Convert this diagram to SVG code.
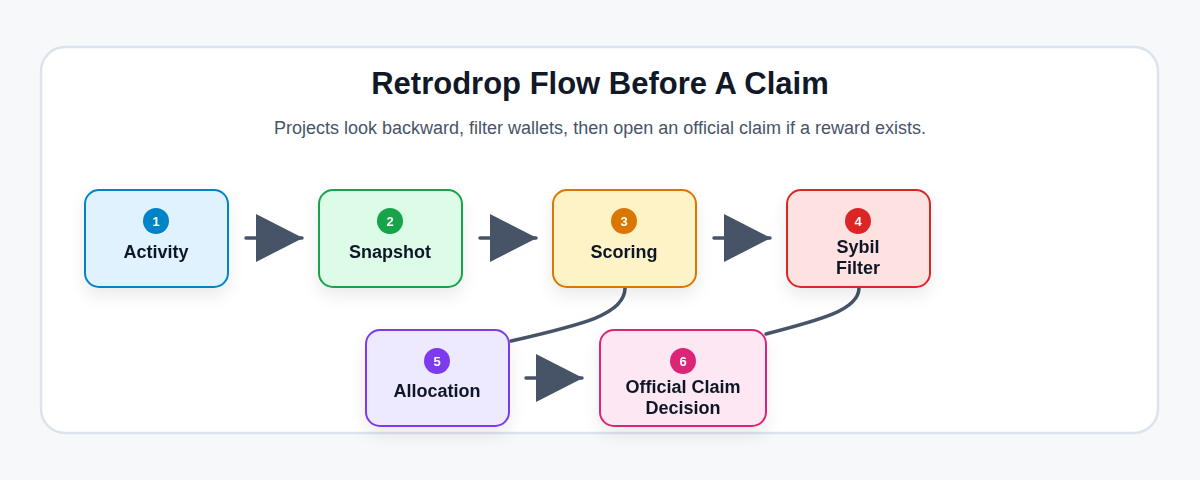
<svg xmlns="http://www.w3.org/2000/svg" width="1200" height="480" viewBox="0 0 1200 480">
<defs>
<filter id="sh" x="-20%" y="-20%" width="140%" height="160%"><feDropShadow dx="0" dy="8" stdDeviation="8" flood-color="#0f172a" flood-opacity="0.08"/></filter>
<marker id="ah" markerWidth="48" markerHeight="50" refX="46" refY="25" markerUnits="userSpaceOnUse" orient="auto"><path d="M0,1 L47,25 L0,49 Z" fill="#475467"/></marker>
<style>
text{font-family:"Liberation Sans",Arial,sans-serif;}
.lbl{font-size:18px;font-weight:bold;fill:#111827;text-anchor:middle}
.num{font-size:13px;font-weight:bold;fill:#fff;text-anchor:middle}
.conn{fill:none;stroke:#475467;stroke-width:3.5;stroke-linecap:round}
</style>
</defs>
<rect width="1200" height="480" fill="#f7f8fa"/>
<rect x="41" y="47" width="1117" height="386" rx="24" fill="#fff" stroke="#dde3ec" stroke-width="2.5"/>
<text x="600" y="94" text-anchor="middle" font-size="31" font-weight="bold" fill="#111827">Retrodrop Flow Before A Claim</text>
<text x="600" y="134" text-anchor="middle" font-size="18" fill="#475467">Projects look backward, filter wallets, then open an official claim if a reward exists.</text>
<g id="connectors">
<path class="conn" d="M246,238 H302" marker-end="url(#ah)"/>
<path class="conn" d="M480,238 H536" marker-end="url(#ah)"/>
<path class="conn" d="M714,238 H770" marker-end="url(#ah)"/>
<path class="conn" d="M526,378 H582" marker-end="url(#ah)"/>
<path class="conn" d="M625,288 C625,315 580,325 511,341"/>
<path class="conn" d="M859,288 C859,310 820,320 766,334"/>
</g>
<g id="n1" filter="url(#sh)"><rect x="85" y="190" width="143" height="97" rx="14" fill="#e0f2fe" stroke="#0284c7" stroke-width="2"/><circle cx="156" cy="221" r="13" fill="#0284c7"/><text class="num" x="156" y="226">1</text><text class="lbl" x="156" y="258">Activity</text></g>
<g id="n2" filter="url(#sh)"><rect x="319" y="190" width="143" height="97" rx="14" fill="#dcfce7" stroke="#16a34a" stroke-width="2"/><circle cx="390" cy="221" r="13" fill="#16a34a"/><text class="num" x="390" y="226">2</text><text class="lbl" x="390" y="258">Snapshot</text></g>
<g id="n3" filter="url(#sh)"><rect x="553" y="190" width="143" height="97" rx="14" fill="#fef3c7" stroke="#d97706" stroke-width="2"/><circle cx="624" cy="221" r="13" fill="#d97706"/><text class="num" x="624" y="226">3</text><text class="lbl" x="624" y="258">Scoring</text></g>
<g id="n4" filter="url(#sh)"><rect x="787" y="190" width="143" height="97" rx="14" fill="#fee2e2" stroke="#dc2626" stroke-width="2"/><circle cx="858" cy="221" r="13" fill="#dc2626"/><text class="num" x="858" y="226">4</text><text class="lbl" x="858" y="253">Sybil</text><text class="lbl" x="858" y="274">Filter</text></g>
<g id="n5" filter="url(#sh)"><rect x="366" y="330" width="143" height="96" rx="14" fill="#ede9fe" stroke="#7c3aed" stroke-width="2"/><circle cx="437" cy="361" r="13" fill="#7c3aed"/><text class="num" x="437" y="366">5</text><text class="lbl" x="437" y="397">Allocation</text></g>
<g id="n6" filter="url(#sh)"><rect x="600" y="330" width="166" height="96" rx="14" fill="#fce7f3" stroke="#db2777" stroke-width="2"/><circle cx="683" cy="361" r="13" fill="#db2777"/><text class="num" x="683" y="366">6</text><text class="lbl" x="683" y="393">Official Claim</text><text class="lbl" x="683" y="414">Decision</text></g>
</svg>
